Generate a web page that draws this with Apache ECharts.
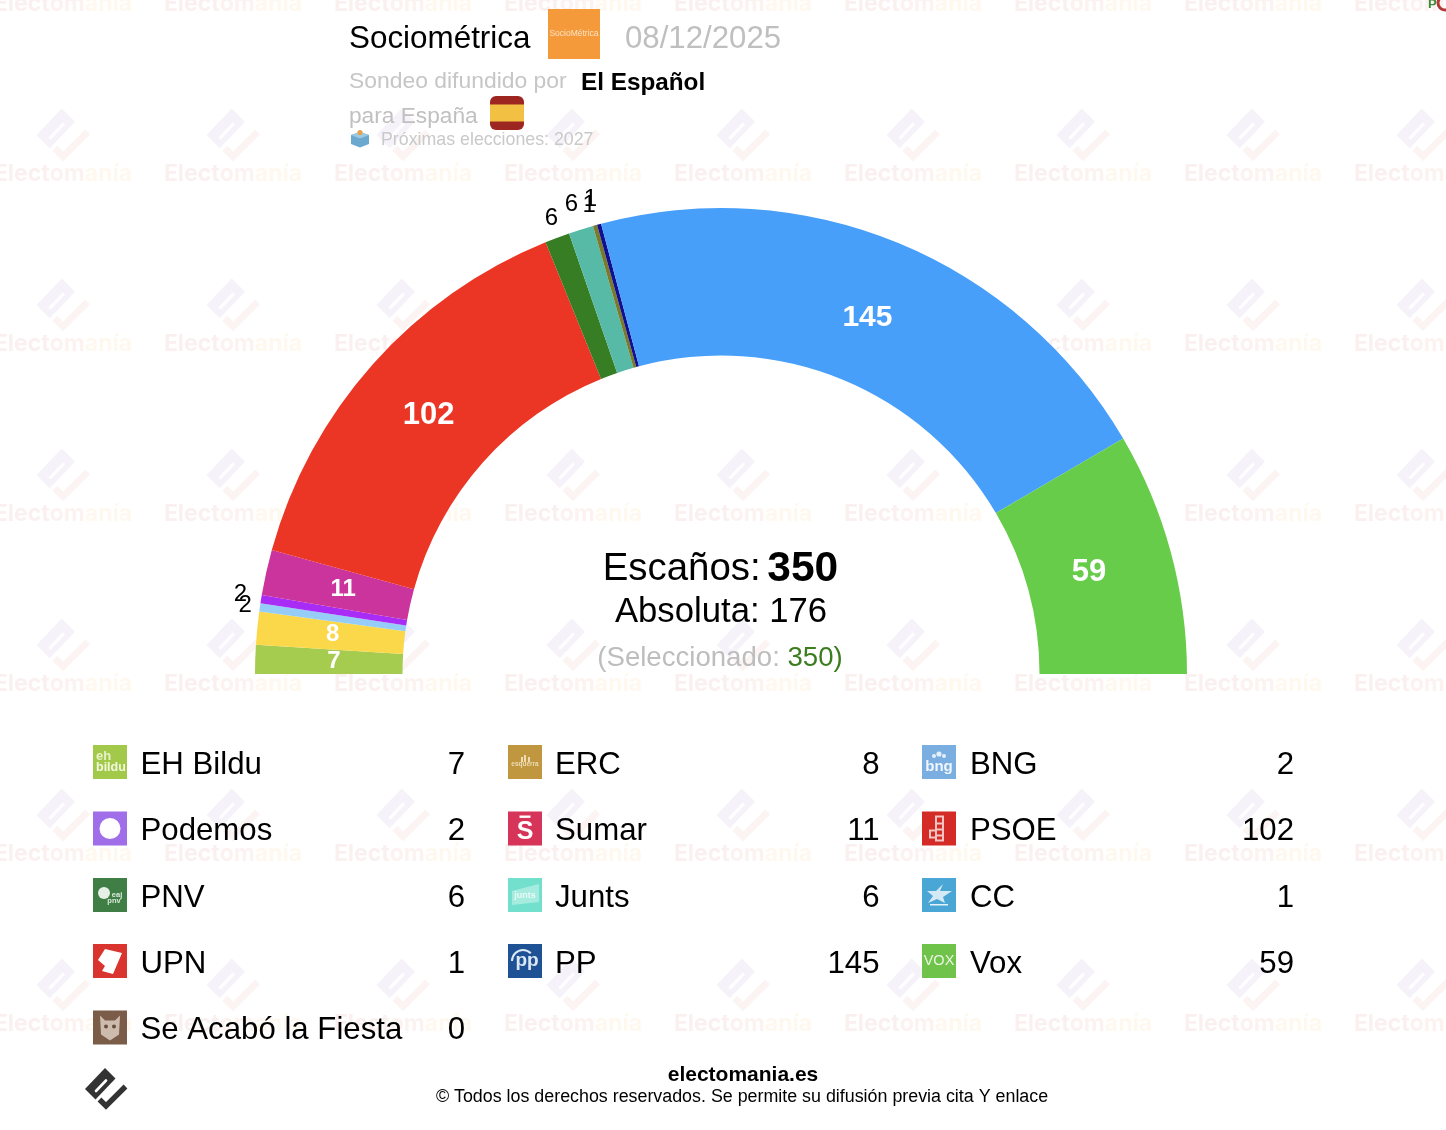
<!DOCTYPE html>
<html>
<head>
<meta charset="utf-8">
<style>html,body{margin:0;padding:0;background:#fff}#c{width:1446px;height:1130px}</style>
<script src="https://cdn.jsdelivr.net/npm/echarts@6/dist/echarts.min.js"></script>
</head>
<body>
<div id="c"></div>
<script>
const parties = ['EH Bildu','ERC','BNG','Podemos','Sumar','PSOE','PNV','Junts','CC','UPN','PP','Vox','Se Acabó la Fiesta'];
const seats = [7,8,2,2,11,102,6,6,1,1,145,59,0];
const sliceColors = ['#a5cc4f','#fbd84a','#95cdf8','#a82cf5','#cb339d','#ec3625','#367d24','#57baa6','#7a7a2a','#101090','#479ffa','#68cc4b','#7a5c48'];
const iconColors = ['#a3c94a','#c0963e','#7aaee0','#a06ee8','#d63458','#d42b26','#3f7f46','#72e0cc','#4aa6d4','#d9352e','#1f5294','#6fc24a','#7a5c48'];
const title = 'Sociométrica';
const pollDate = '08/12/2025';
const media = 'El Español';
const totalSeats = 350, majority = 176, selected = 350;

const FONT = '"Liberation Sans", Helvetica, Arial, sans-serif';
const CX = 721, CY = 674, R0 = 318.5, R1 = 466;

// Label tuning (layout only)
const insideSize = {PP:30, PSOE:31, Vox:31, Sumar:24, ERC:24, 'EH Bildu':24};
const insideOffset = {PP:[-4,9], Vox:[-13.5,2], Sumar:[8,2], ERC:[5,-1], 'EH Bildu':[8,0], PSOE:[3,4]};
const outsideOffset = {BNG:[10,2], Podemos:[4,-1], PNV:[3,4], Junts:[-2,-1], CC:[1,4], UPN:[-2,-1]};

const g = [];
function T(text,x,y,size,fill,extra){
  g.push({type:'text',z:extra&&extra.z||5,silent:true,style:Object.assign({text,x,y,fontSize:size,fontFamily:FONT,fill,textVerticalAlign:'middle',textAlign:'left'},extra&&extra.style||{})});
}
function R(x,y,w,h,fill,r,z){
  g.push({type:'rect',z:z||5,silent:true,shape:{x,y,width:w,height:h,r:r||0},style:{fill}});
}
function logo(cx,cy,s,cMain,cCheck,z,slot){
  const p = a=>a.map(q=>[cx+q[0]*s,cy+q[1]*s]);
  g.push({type:'polygon',z,silent:true,shape:{points:p([[-1,-21],[9.5,-10.5],[-10.5,10.5],[-21,0]])},style:{fill:cMain}});
  g.push({type:'polyline',z,silent:true,shape:{points:p([[-10,2],[0,-8.5]])},style:{stroke:slot,lineWidth:2.6*s,fill:null,lineCap:'round'}});
  g.push({type:'polyline',z,silent:true,shape:{points:p([[19.5,-2.5],[0,17],[-6.5,10.5]])},style:{stroke:cCheck,lineWidth:5.4*s,fill:null}});
}

// Watermark tiles
for(let iy=0;iy<7;iy++){
  for(let ix=0;ix<9;ix++){
    const x=63+170*ix, yLogo=-35+170*iy, yText=4+170*iy;
    logo(x,yLogo,1.26,'#f6f2f9','#fcf4f3',0,'#fefdff');
    g.push({type:'text',z:0,silent:true,style:{text:'{a|Elect}{b|om}{c|anía}',x,y:yText,textAlign:'center',textVerticalAlign:'middle',
      rich:{a:{fontSize:23,fontWeight:700,fontFamily:'Inter, '+FONT,fill:'#fbf0f0'},b:{fontSize:23,fontWeight:700,fontFamily:'Inter, '+FONT,fill:'#fcf3f1'},c:{fontSize:23,fontWeight:700,fontFamily:'Inter, '+FONT,fill:'#fff8ef'}}}});
  }
}
// corner remnant
T('P',1428,4,13,'#3d8a35',{style:{fontWeight:700}});
g.push({type:'circle',z:5,silent:true,shape:{cx:1445,cy:3,r:7},style:{fill:'none',stroke:'#b33a36',lineWidth:3}});

// Header
T(title,349,39,31.4,'#000');
R(548,9,52,50,'#f49a3a');
T('SocioMétrica',574,34,8.5,'#fbe3c6',{style:{textAlign:'center'}});
T(pollDate,625,39.5,31.2,'#bfbfbf');
T('Sondeo difundido por',349,82,22.9,'#c6c6c6');
T(media,581,83,24.3,'#000',{style:{fontWeight:700}});
T('para España',349,117,22.7,'#c0c0c0');
R(490,96,34,34,'#9e2620',6);
R(490,104.5,34,17,'#f2c144');
g.push({type:'polygon',z:5,silent:true,shape:{points:[[351,135],[360,132],[369,135],[369,144],[360,147.5],[351,144]]},style:{fill:'#6aa8cf'}});
g.push({type:'polygon',z:5,silent:true,shape:{points:[[351,135],[360,138.5],[369,135],[360,132]]},style:{fill:'#9cc8e2'}});
g.push({type:'circle',z:5,silent:true,shape:{cx:360,cy:132.5,r:2.6},style:{fill:'#e8a04a'}});
T('Próximas elecciones: 2027',381,140.5,17.8,'#c9c9c9');

// Centre text
g.push({type:'text',z:5,silent:true,style:{text:'{a|Escaños:}{s| }{b|'+totalSeats+'}',x:720.5,y:569,textAlign:'center',textVerticalAlign:'middle',
  rich:{a:{fontSize:38.4,fontFamily:FONT,fill:'#000'},s:{fontSize:24,fontFamily:FONT,fill:'#000'},b:{fontSize:42.5,fontWeight:700,fontFamily:FONT,fill:'#000'}}}});
T('Absoluta: '+majority,CX,612,34.7,'#000',{style:{textAlign:'center'}});
g.push({type:'text',z:5,silent:true,style:{text:'{a|(Seleccionado: }{b|'+selected+')}',x:720,y:658,textAlign:'center',textVerticalAlign:'middle',
  rich:{a:{fontSize:27.6,fontFamily:FONT,fill:'#bdbdbd'},b:{fontSize:27.6,fontFamily:FONT,fill:'#3d7d1f'}}}});

// Legend
const colIcon=[93,508,922], colName=[140.5,555,970], colVal=[465,879.5,1294], rowY=[763,829.5,896,962,1028.5];
const icS=34;
function iconGlyph(name,x,y){
  const cx=x+icS/2, cy=y+icS/2;
  const W='#fff';
  const gl=(t,px,py,size,fill,bold,al)=>T(t,px,py,size,fill,{z:7,style:{textAlign:al||'center',fontWeight:bold?700:400}});
  const txt=(t,dx,dy,size,bold,fill)=>gl(t,cx+dx,cy+dy,size,fill||W,bold);
  const poly=(pts,fill)=>g.push({type:'polygon',z:6,silent:true,shape:{points:pts},style:{fill}});
  const circ=(a,b,r,fill)=>g.push({type:'circle',z:6,silent:true,shape:{cx:a,cy:b,r},style:{fill}});
  switch(name){
    case 'EH Bildu': gl('eh',x+3,cy-6,13,'#e8f2c8',true,'left'); gl('bildu',x+3,cy+5.5,12.5,'#f2f7de',true,'left'); break;
    case 'ERC': txt('esquerra',0,2.5,6.5,true,'#ecdcb4'); R(cx-1,cy-7,2,7,'#ecdcb4',0,6); R(cx-4,cy-5,2,5,'#ecdcb4',0,6); R(cx+3,cy-5,2,5,'#ecdcb4',0,6); break;
    case 'BNG': txt('bng',0,4.5,15,true,'#f0f6fd'); circ(cx,cy-8,2.6,'#e4effb'); circ(cx-5,cy-6,2,'#e4effb'); circ(cx+5,cy-6,2,'#e4effb'); break;
    case 'Podemos': circ(cx,cy,10.5,W); break;
    case 'Sumar': R(cx-5.5,y+4,11,2.4,W,0,6); txt('S',0,3.5,25,true); break;
    case 'PSOE':
      R(cx-4,y+4,9,26,'#f4c5c2',0,6); R(cx-2,y+6,5,5,'#d42b26',0,6); R(cx-2,y+13,5,4,'#d42b26',0,6); R(cx-2,y+19,5,4,'#d42b26',0,6); R(cx-2,y+25,5,3,'#d42b26',0,6);
      R(cx-10,cy+1,7,9,'#f4c5c2',0,6); R(cx-8,cy+3,4,5,'#d42b26',0,6); break;
    case 'PNV': circ(cx-6,cy-2,6,'#e6f0e6'); txt('eaj',7,0,7.5,true,'#dcebdc'); txt('pnv',4,5.5,7.5,true,'#dcebdc'); break;
    case 'Junts': poly([[x+4,y+13],[x+31,y+6],[x+31,y+24],[x+4,y+27]],'#a5ecdf'); txt('junts',0,1,9,true,'#eafaf6'); break;
    case 'CC': poly([[cx+4,y+6],[cx+1,y+13],[cx+13,y+13],[cx+4,y+19],[cx+6,y+25],[cx-2,y+21],[cx-11,y+25],[cx-6,y+18],[cx-12,y+13],[cx-3,y+13]],'#d3eaf6'); R(cx-9,y+26,18,1.5,'#e4f2fa',0,7); break;
    case 'UPN': poly([[cx-5,y+5],[cx+12,y+9],[cx+3,y+30],[cx-8,y+27],[cx-5,y+22],[cx-12,y+16]],W); break;
    case 'PP': txt('pp',2,0,19,true,'#dce8f6'); g.push({type:'arc',z:6,silent:true,shape:{cx:cx-2,cy,r:11,startAngle:Math.PI*1.0,endAngle:Math.PI*1.75},style:{stroke:'#dce8f6',lineWidth:2,fill:null}}); break;
    case 'Vox': txt('VOX',0,0,14.5,false,'#eaf6e2'); break;
    default:
      poly([[cx-10,y+5],[cx-5,y+10],[cx+5,y+10],[cx+10,y+5],[cx+9,y+24],[cx,y+30],[cx-9,y+24]],'#cdbcae');
      circ(cx-4,cy-1,2,'#6a4e3c'); circ(cx+4,cy-1,2,'#6a4e3c');
  }
}
parties.forEach((name,i)=>{
  const col=i%3, row=Math.floor(i/3);
  const y=rowY[row];
  R(colIcon[col],y-18,icS,icS,iconColors[i]);
  iconGlyph(name,colIcon[col],y-18);
  T(name,colName[col],y+2,31.2,'#000');
  T(String(seats[i]),colVal[col],y+2,31.2,'#000',{style:{textAlign:'right'}});
});

// Footer
logo(106,1089,1,'#333','#333',5,'#fff');
T('electomania.es',743,1075,21,'#000',{style:{textAlign:'center',fontWeight:700}});
T('© Todos los derechos reservados. Se permite su difusión previa cita Y enlace',742,1097,17.85,'#000',{style:{textAlign:'center'}});

const mainData = parties.map((name,i)=>({
  name, value:seats[i], itemStyle:{color:sliceColors[i]},
  label: seats[i]>=7 ? {show:true,position:'inside',color:'#fff',fontWeight:700,fontFamily:FONT,fontSize:insideSize[name]||24,offset:insideOffset[name]||[0,0],formatter:'{c}'} : {show:false}
}));
const rimData = parties.map((name,i)=>({
  name, value:seats[i], itemStyle:{color:'rgba(0,0,0,0)'},
  label: (seats[i]>0&&seats[i]<7) ? {show:true,position:'inside',color:'#000',fontFamily:FONT,fontSize:24,offset:outsideOffset[name]||[0,0],formatter:'{c}'} : {show:false}
}));
const pieBase = {type:'pie',center:[CX,CY],startAngle:180,endAngle:360,clockwise:true,avoidLabelOverlap:false,labelLayout:{hideOverlap:false},minAngle:0,animation:false,silent:true,labelLine:{show:false},emphasis:{disabled:true}};

const chart = echarts.init(document.getElementById('c'),null,{renderer:'canvas',width:1446,height:1130});
chart.setOption({
  backgroundColor:'#fff',
  animation:false,
  graphic:{elements:g},
  series:[
    Object.assign({},pieBase,{name:'Escaños',radius:[R0,R1],data:mainData,z:2}),
    Object.assign({},pieBase,{name:'Escaños exterior',radius:[R1,510],data:rimData,z:3})
  ]
});
</script>
</body>
</html>
